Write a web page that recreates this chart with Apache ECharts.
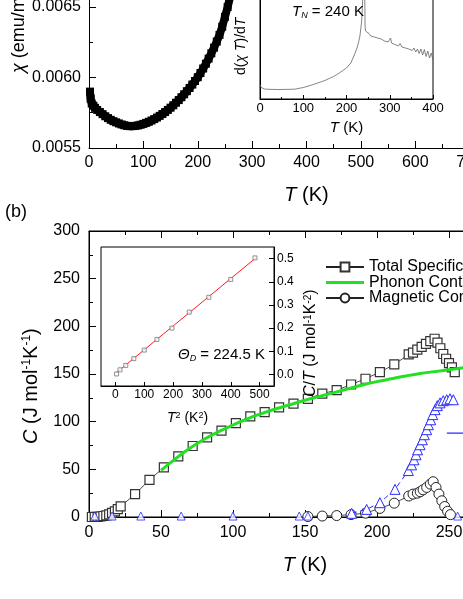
<!DOCTYPE html>
<html><head><meta charset="utf-8">
<script src="https://cdn.jsdelivr.net/npm/echarts@6/dist/echarts.min.js"></script>
<style>html,body{margin:0;padding:0;width:463px;height:599px;overflow:hidden;background:#fff}
#c{position:absolute;left:0;top:-80px;width:620px;height:700px}</style>
</head><body><div id="c"></div>
<script>
// ---- panel (a): susceptibility ----
const chiT = [1.8,3,5,8,11,15,20,25,30,35,40,45,50,55,60,65,70,75,80,85,90,95,100,105,110,115,120,125,130,135,140,145,150,155,160,165,170,175,180,185,190,195,200,205,210,215,220,225,230,235,240,245,250,255,260,265];
const chiV = [0.0059,0.00585,0.005815,0.0058,0.005785,0.00577,0.005755,0.00574,0.005725,0.005712,0.0057,0.00569,0.005682,0.005674,0.005667,0.005661,0.005657,0.005655,0.005655,0.005657,0.00566,0.005665,0.005671,0.005678,0.005686,0.005695,0.005705,0.005716,0.005728,0.005741,0.005755,0.00577,0.005786,0.005803,0.005821,0.00584,0.00586,0.005881,0.005903,0.005926,0.00595,0.005975,0.006002,0.006032,0.006064,0.006098,0.006134,0.006172,0.006212,0.006255,0.006302,0.00636,0.00643,0.0065,0.00658,0.00666];
// inset: d(chi T)/dT (arbitrary units)
const dT = [0,3,6,10,20,40,60,80,100,120,140,150,160,170,180,190,200,210,215,220,225,228,231,233,235,236,237,238,239,240,241,242,243,244,248,252,256,260,264,268,272,276,280,284,288,292,296,300,302,304,308,312,316,320,324,328,332,336,340,344,348,352,356,360,364,368,372,376,380,384,388,392,396,400];
const dV = [14,11.5,10.5,10,9.7,9.5,9.6,9.8,11.5,14,17,18.5,20.5,22.5,25,28,31,36,41,46,52,57,63,70,78,85,95,110,140,200,190,110,72,68,66,65.5,63,64.5,62,63,61,62,60,60.5,58,59,57,58.5,61,56,57,54.5,56,53,55.5,52,53.5,51,53,50,52,48.5,51,47,50,45.5,50,44,49.5,42.5,48,41,46,39];
// ---- panel (b): specific heat ----
const totalT = [2,4,6,8,10,12,14,16,18,20,22,32,42,52,62,72,82,92,102,112,122,132,142,152,162,172,182,192,202,212,222,225,228,231,234,237,240,242,244,246,248,250,252,254];
const totalC = [0.004,0.08,0.23,0.54,1.05,1.8,2.8,4.3,6.0,8.2,11.1,24,39,52,63.5,74.5,83.5,90.5,98.5,105.5,110,115,119,124,129.5,133,139,145,152,160,170.5,172.5,175.5,178.5,181.5,184.5,187,183,177,171,166,161.5,157,152];
const phononT = [50,60,70,80,90,100,110,120,130,140,150,160,170,180,190,200,210,220,230,240,250,260,270,280,290,300];
const phononC = [49,61,72,81.5,89.5,96.5,103,108.5,113.5,118,122.5,126.5,130.5,134.5,138.5,142,145,148,150.5,152.5,154.5,156.5,158.5,160,161.5,163];
const magT = [152,162,172,182,192,202,212,222,225,228,230,232,234.5,237,239,241,243,245,247,249,251];
const magC = [0.5,1,1.5,2.5,4,9,14.5,22,24,25,26.5,28.5,31,34.5,37,31,24,17,11,6,2.5];
const blueT = [182.4,192.8,202,212.5,221.8,224,225.7,227.1,228.2,229.9,231.5,232.9,234.5,235.7,237.3,238.7,240.3,241.9,243.8,246,248.4,250.7,253];
const blueC = [3.9,8,15,29,48.7,54.7,60,65.3,70.5,75.8,81,86.3,91.6,96.8,102,107.4,112.6,116.8,119.7,122,123,124,123];
const blueLowT = [4,16,36,64,100,146,152,256];
const blueLowC = [1,1,1,1,1,1,1,1];
const refT = [248.5,300];
const refC = [88,88];
// inset: C/T vs T^2
const insetT2 = [4,16,36,64,100,144,196,256,324,400,484];
const insetCT = [0.002,0.02,0.039,0.068,0.105,0.151,0.2,0.269,0.333,0.41,0.503];
const fitT2 = [2,490];
const fitCT = [0.006,0.506];
// tick label values
const insetXTicks = [0,100,200,300,400,500];
const insetYTicks = [0,0.1,0.2,0.3,0.4,0.5];

const pairs = (a,b) => a.map((v,i)=>[v,b[i]]);
const OFF = 80;
const FONT = '"Liberation Sans", Arial, Helvetica, sans-serif';
const BLK = '#000';

function rich(size){
  return {
    i:{fontStyle:'italic',fontSize:size,fontFamily:FONT,color:BLK,fill:BLK},
    g:{fontStyle:'italic',fontSize:size,fontFamily:FONT,color:BLK,fill:BLK},
    sup:{fontSize:Math.round(size*0.62),fontFamily:FONT,verticalAlign:'top',color:BLK,fill:BLK},
    sub:{fontSize:Math.round(size*0.62),fontFamily:FONT,verticalAlign:'bottom',color:BLK,fill:BLK},
    isub:{fontStyle:'italic',fontSize:Math.round(size*0.62),fontFamily:FONT,verticalAlign:'bottom',color:BLK,fill:BLK}
  };
}
function txt(text,x,y,size,rot,align){
  return {type:'text',x:x,y:y+OFF,rotation:rot||0,z:100,
    style:{text:text,fontSize:size,fontFamily:FONT,fill:BLK,
      align:align||'left',textAlign:align||'left',verticalAlign:'middle',textVerticalAlign:'middle',
      rich:rich(size)}};
}
const axLine = {show:true,onZero:false,lineStyle:{color:BLK,width:1}};
function tick(len){return {show:true,inside:true,length:len,lineStyle:{color:BLK,width:1}};}
function minor(len){return {show:true,splitNumber:2,length:len,lineStyle:{color:BLK,width:1}};}
function lab(size,margin,extra){return Object.assign({color:BLK,fontSize:size,fontFamily:FONT,margin:margin},extra||{});}

const chart = echarts.init(document.getElementById('c'),null,{renderer:'canvas'});
const option = {
  animation:false,
  backgroundColor:'#fff',
  textStyle:{fontFamily:FONT,color:BLK},
  grid:[
    {left:89,top:-63.5+OFF,width:435,height:211.5,outerBoundsMode:'none'},
    {left:260,top:-41+OFF,width:173,height:140,show:true,borderColor:BLK,borderWidth:1,backgroundColor:'#fff',outerBoundsMode:'none'},
    {left:89,top:231+OFF,width:432,height:286,show:true,borderColor:BLK,borderWidth:1,outerBoundsMode:'none'},
    {left:101,top:247+OFF,width:173,height:139,show:true,borderColor:BLK,borderWidth:1,backgroundColor:'#fff',outerBoundsMode:'none'}
  ],
  xAxis:[
    {gridIndex:0,type:'value',min:0,max:800,interval:100,axisLine:axLine,axisTick:tick(7),minorTick:minor(4),splitLine:{show:false},
     axisLabel:lab(16,7),name:'{i|T} (K)',nameLocation:'middle',nameGap:37,
     nameTextStyle:{fontSize:20,fontFamily:FONT,color:BLK,rich:rich(20)}},
    {gridIndex:1,type:'value',min:0,max:400,interval:100,axisLine:axLine,axisTick:tick(4),minorTick:minor(2),splitLine:{show:false},
     axisLabel:lab(13,3),name:'{i|T} (K)',nameLocation:'middle',nameGap:21,
     nameTextStyle:{fontSize:15,fontFamily:FONT,color:BLK,rich:rich(15)}},
    {gridIndex:2,type:'value',min:0,max:300,interval:50,axisLine:axLine,axisTick:tick(7),minorTick:minor(4),splitLine:{show:false},
     axisLabel:lab(16,8),name:'{i|T} (K)',nameLocation:'middle',nameGap:38,
     nameTextStyle:{fontSize:20,fontFamily:FONT,color:BLK,rich:rich(20)}},
    {gridIndex:2,type:'value',position:'top',min:0,max:300,interval:50,axisLine:axLine,axisTick:tick(7),minorTick:minor(4),splitLine:{show:false},
     axisLabel:{show:false}},
    {gridIndex:3,type:'value',min:-50,max:550,axisLine:axLine,splitLine:{show:false},
     axisTick:Object.assign(tick(4),{customValues:insetXTicks}),
     axisLabel:lab(12,3,{customValues:insetXTicks}),
     name:'{i|T}{sup|2} (K{sup|2})',nameLocation:'middle',nameGap:25,
     nameTextStyle:{fontSize:14,fontFamily:FONT,color:BLK,rich:rich(14)}}
  ],
  yAxis:[
    {gridIndex:0,type:'value',min:0.0055,max:0.007,interval:0.0005,axisLine:axLine,axisTick:tick(7),minorTick:minor(4),splitLine:{show:false},
     axisLabel:lab(16,8,{formatter:v=>v.toFixed(4)})},
    {gridIndex:1,type:'value',min:0,max:140,axisLine:axLine,axisTick:{show:false},axisLabel:{show:false},splitLine:{show:false}},
    {gridIndex:2,type:'value',min:0,max:300,interval:50,axisLine:axLine,axisTick:tick(7),minorTick:minor(4),splitLine:{show:false},
     axisLabel:lab(16,9)},
    {gridIndex:3,type:'value',position:'right',min:-0.05,max:0.55,axisLine:axLine,splitLine:{show:false},
     axisTick:Object.assign(tick(5),{customValues:insetYTicks}),
     axisLabel:lab(12,3,{customValues:insetYTicks,formatter:v=>v.toFixed(1)})}
  ],
  legend:{
    data:[
      {name:'Total Specific Heat'},
      {name:'Phonon Contribution',icon:'path://M0,0H38V3H0Z'},
      {name:'Magnetic Contribution'}
    ],
    orient:'vertical',left:325,top:259+OFF,itemWidth:38,itemHeight:11,itemGap:-0.5,
    textStyle:{fontSize:16,fontFamily:FONT,color:BLK},padding:0
  },
  series:[
    {name:'chi',type:'line',xAxisIndex:0,yAxisIndex:0,data:pairs(chiT,chiV),
     symbol:'rect',symbolSize:8,itemStyle:{color:'#000'},lineStyle:{color:'#000',width:8},z:3},
    {name:'dchiT',type:'line',xAxisIndex:1,yAxisIndex:1,data:pairs(dT,dV),symbol:'none',
     lineStyle:{color:'#666',width:0.8},z:5},
    {name:'Total Specific Heat',type:'line',xAxisIndex:2,yAxisIndex:2,data:pairs(totalT,totalC),
     symbol:'rect',symbolSize:9,itemStyle:{color:'#fff',borderColor:'#333',borderWidth:1.2},
     lineStyle:{color:'#222',width:0.8},z:3},
    {name:'Phonon Contribution',type:'line',xAxisIndex:2,yAxisIndex:2,data:pairs(phononT,phononC),
     symbol:'none',showSymbol:false,smooth:true,itemStyle:{color:'#22e022'},lineStyle:{color:'#22e022',width:3},z:4},
    {name:'Magnetic Contribution',type:'line',xAxisIndex:2,yAxisIndex:2,data:pairs(magT,magC),
     symbol:'circle',symbolSize:10,itemStyle:{color:'#fff',borderColor:'#222',borderWidth:1},
     lineStyle:{color:'#222',width:0.8},z:4},
    {name:'Magnetic entropy',type:'line',xAxisIndex:2,yAxisIndex:2,data:pairs(blueT,blueC),
     symbol:'triangle',symbolSize:10,itemStyle:{color:'#fff',borderColor:'#2a2aff',borderWidth:1},
     lineStyle:{color:'#2a2aff',width:1,type:[5,4]},z:5},
    {name:'low',type:'scatter',xAxisIndex:2,yAxisIndex:2,data:pairs(blueLowT,blueLowC),
     symbol:'triangle',symbolSize:8,itemStyle:{color:'#fff',borderColor:'#2a2aff',borderWidth:1},z:5},
    {name:'ref',type:'line',xAxisIndex:2,yAxisIndex:2,data:pairs(refT,refC),symbol:'none',
     lineStyle:{color:'#2a2aff',width:1.2},z:5},
    {name:'inset',type:'scatter',xAxisIndex:4,yAxisIndex:3,data:pairs(insetT2,insetCT),
     symbol:'rect',symbolSize:4,itemStyle:{color:'#fff',borderColor:'#777',borderWidth:1},z:7},
    {name:'fit',type:'line',xAxisIndex:4,yAxisIndex:3,data:pairs(fitT2,fitCT),symbol:'none',
     lineStyle:{color:'#ff1a1a',width:1},z:6}
  ],
  graphic:[
    txt('{g|χ} (emu/mol)',19,73,18,Math.PI/2,'left'),
    txt('d({i|χ T})/d{i|T}',241,75,14,Math.PI/2,'left'),
    txt('{i|T}{isub|N} = 240 K',292,12,15,0,'left'),
    txt('(b)',5,212,18,0,'left'),
    txt('{i|C} (J mol{sup|-1}K{sup|-1})',31,444,20,Math.PI/2,'left'),
    txt('{i|C}/{i|T} (J mol{sup|-1}K{sup|-2})',311,397,16,Math.PI/2,'left'),
    txt('{i|Θ}{isub|D} = 224.5 K',178,355,15,0,'left')
  ]
};
chart.setOption(option);
</script></body></html>
